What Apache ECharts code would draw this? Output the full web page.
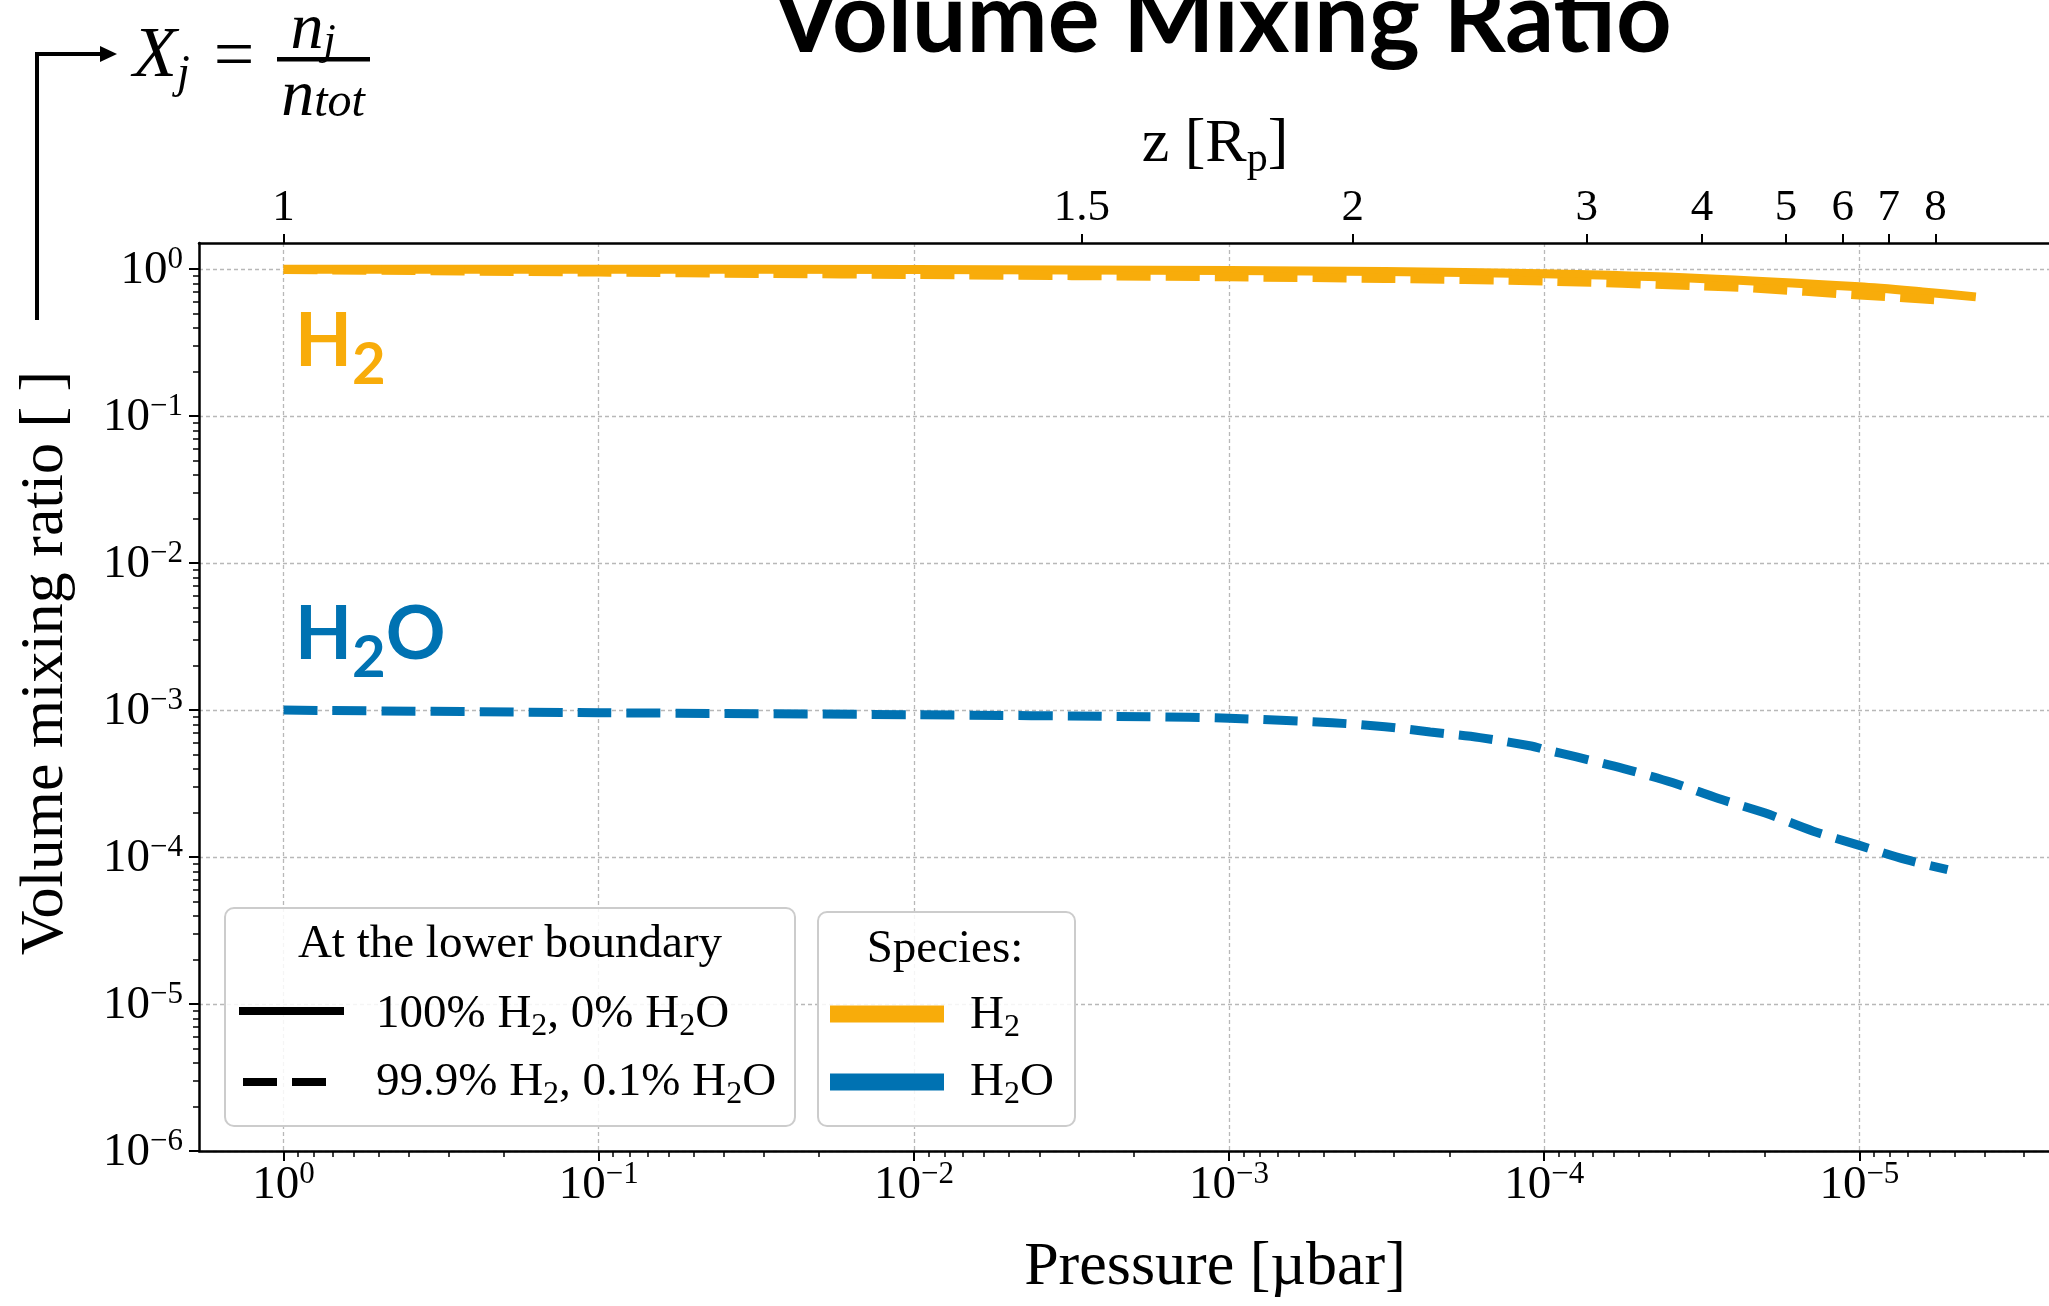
<!DOCTYPE html>
<html>
<head>
<meta charset="utf-8">
<script src="https://cdn.jsdelivr.net/npm/echarts@6/dist/echarts.min.js"></script>
<style>
html,body{margin:0;padding:0;background:#fff;}
#c{width:2049px;height:1306px;}
</style>
</head>
<body>
<div id="c"></div>
<script>
// ---------------- DATA ----------------
// 100% H2, 0% H2O : H2 volume mixing ratio (solid orange)
const h2SolidPressure = [1, 0.1, 0.01, 1e-3, 3.2e-4, 1e-4, 3.2e-5, 1e-5, 6.3e-6, 4.27e-6];
const h2SolidVmr      = [1.0, 1.0, 0.995, 0.98, 0.963, 0.93, 0.865, 0.758, 0.70, 0.648];

// 99.9% H2, 0.1% H2O : H2 volume mixing ratio (dashed orange)
const h2DashPressure = [1, 0.1, 0.029, 0.01, 1e-3, 3.2e-4, 1e-4, 3.2e-5, 2.2e-5, 1e-5, 5.5e-6];
const h2DashVmr      = [0.995, 0.955, 0.935, 0.92, 0.887, 0.865, 0.83, 0.77, 0.745, 0.668, 0.616];

// 99.9% H2, 0.1% H2O : H2O volume mixing ratio (dashed blue)
const h2oDashPressure = [1, 0.1, 0.01, 1.8e-3, 1e-3, 4.7e-4, 3.2e-4, 2.3e-4, 1.6e-4, 1.1e-4, 1e-4,
                         7.9e-5, 5.6e-5, 3.9e-5, 2.8e-5, 2.0e-5, 1.4e-5, 1e-5, 7.1e-6, 5.25e-6];
const h2oDashVmr      = [1.0e-3, 9.6e-4, 9.3e-4, 9.0e-4, 8.8e-4, 8.2e-4, 7.7e-4, 7.1e-4, 6.5e-4, 5.7e-4, 5.4e-4,
                         4.8e-4, 4.0e-4, 3.2e-4, 2.5e-4, 2.0e-4, 1.5e-4, 1.2e-4, 9.6e-5, 8.2e-5];

// Axis ticks
const pressureTicks = [1, 1e-1, 1e-2, 1e-3, 1e-4, 1e-5, 1e-6];
const vmrTicks      = [1, 1e-1, 1e-2, 1e-3, 1e-4, 1e-5, 1e-6];
// Top axis: altitude z [Rp] tick labels and the pressures where they sit
const zTickLabels   = ['1', '1.5', '2', '3', '4', '5', '6', '7', '8'];
const zTickPressure = [1, 2.93e-3, 4.05e-4, 7.33e-5, 3.16e-5, 1.71e-5, 1.13e-5, 8.07e-6, 5.73e-6];

// Legend / text
const legendTitle1 = 'At the lower boundary';
const legendTitle2 = 'Species:';

// ---------------- STYLE ----------------
const SERIF = '"Liberation Serif", "DejaVu Serif", serif';
const SANS  = 'Lato, "Open Sans", sans-serif';
const ORANGE = '#f8ac0a';
const BLUE = '#0072b2';
const GRID = '#b8b8b8';

function minorTicks(lo, hi) {
  const out = [];
  for (let e = lo; e <= hi; e++) for (let m = 2; m <= 9; m++) out.push(m * Math.pow(10, e));
  return out;
}
function powLabel(v) {
  const e = Math.round(Math.log10(v));
  return '{b|10}{s|' + (e < 0 ? '\u2212' + (-e) : String(e)) + '}';
}
const tickRich = {
  b: {fontFamily: SERIF, fontSize: 47, lineHeight: 50, verticalAlign: 'bottom', color: '#000'},
  s: {fontFamily: SERIF, fontSize: 31, lineHeight: 31, verticalAlign: 'top', color: '#000'}
};
function zip(a, b) { return a.map((p, i) => [p, b[i]]); }

const X_MIN = 6.62e-7, X_MAX = 1.855, Y_MIN = 1e-6, Y_MAX = 1.507;

const chart = echarts.init(document.getElementById('c'), null, {renderer: 'canvas'});

const subRich = (fs, sfs, p, color) => ({
  n: {fontFamily: SERIF, fontSize: fs, lineHeight: fs, verticalAlign: 'top', fill: color || '#000', color: color || '#000'},
  u: {fontFamily: SERIF, fontSize: sfs, lineHeight: sfs, verticalAlign: 'top', padding: [p, 0, 0, 0], fill: color || '#000', color: color || '#000'}
});

const option = {
  animation: false,
  backgroundColor: '#fff',
  title: {
    text: 'Volume Mixing Ratio',
    left: 1222, top: -30, padding: 0, textAlign: 'center',
    textStyle: {fontFamily: SANS, fontWeight: 'bold', fontSize: 97, lineHeight: 102, color: '#000'}
  },
  grid: {left: 199, top: 243, right: -182, bottom: 155, containLabel: false, outerBoundsMode: 'none'},
  xAxis: [
    {
      type: 'log', logBase: 10, min: X_MIN, max: X_MAX, inverse: true, position: 'bottom',
      name: 'Pressure [\u00b5bar]', nameLocation: 'middle', nameGap: 86,
      nameTextStyle: {fontFamily: SERIF, fontSize: 62, color: '#000'},
      axisLine: {show: true, onZero: false, lineStyle: {color: '#000', width: 2.5}},
      axisTick: {show: true, inside: false, length: 10, customValues: pressureTicks, lineStyle: {color: '#000', width: 2}},
      axisLabel: {show: true, customValues: pressureTicks, margin: 8, formatter: powLabel, rich: tickRich},
      splitLine: {show: true, lineStyle: {color: GRID, width: 1.3, type: [4, 3]}},
      minorTick: {show: false}
    },
    {
      type: 'log', logBase: 10, min: X_MIN, max: X_MAX, inverse: true, position: 'top',
      name: 'z [R{p|p}]', nameLocation: 'middle', nameGap: 62,
      nameTextStyle: {fontFamily: SERIF, fontSize: 62, color: '#000',
        rich: {p: {fontFamily: SERIF, fontSize: 42, padding: [30, 0, 0, 0], color: '#000'}}},
      axisLine: {show: true, onZero: false, lineStyle: {color: '#000', width: 2.5}},
      axisTick: {show: true, inside: false, length: 9, customValues: zTickPressure, lineStyle: {color: '#000', width: 2}},
      axisLabel: {show: true, customValues: zTickPressure, margin: 12, fontFamily: SERIF, fontSize: 45, color: '#000',
        formatter: function (v) {
          let best = 0, bd = Infinity;
          zTickPressure.forEach((p, i) => { const d = Math.abs(Math.log10(p) - Math.log10(v)); if (d < bd) { bd = d; best = i; } });
          return zTickLabels[best];
        }},
      splitLine: {show: false}
    },
    {
      type: 'log', logBase: 10, min: X_MIN, max: X_MAX, inverse: true, position: 'bottom',
      axisLine: {show: false, onZero: false},
      axisTick: {show: true, inside: false, length: 6, customValues: minorTicks(-7, 0), lineStyle: {color: '#000', width: 1.5}},
      axisLabel: {show: false},
      splitLine: {show: false}
    }
  ],
  yAxis: [
    {
      type: 'log', logBase: 10, min: Y_MIN, max: Y_MAX, position: 'left',
      name: 'Volume mixing ratio [ ]', nameLocation: 'middle', nameGap: 122, nameRotate: 90,
      nameTextStyle: {fontFamily: SERIF, fontSize: 62, color: '#000', padding: [0, 0, 0, 68]},
      axisLine: {show: true, onZero: false, lineStyle: {color: '#000', width: 2.5}},
      axisTick: {show: true, inside: false, length: 10, customValues: vmrTicks, lineStyle: {color: '#000', width: 2}},
      axisLabel: {show: true, customValues: vmrTicks, margin: 16, formatter: powLabel, rich: tickRich},
      splitLine: {show: true, lineStyle: {color: GRID, width: 1.3, type: [4, 3]}}
    },
    {
      type: 'log', logBase: 10, min: Y_MIN, max: Y_MAX, position: 'left',
      axisLine: {show: false, onZero: false},
      axisTick: {show: true, inside: false, length: 6, customValues: minorTicks(-6, 0), lineStyle: {color: '#000', width: 1.5}},
      axisLabel: {show: false},
      splitLine: {show: false}
    }
  ],
  series: [
    {
      name: 'H2 (100% H2, 0% H2O)', type: 'line', xAxisIndex: 0, yAxisIndex: 0,
      data: zip(h2SolidPressure, h2SolidVmr), showSymbol: false, symbol: 'none', smooth: 0.3,
      lineStyle: {color: ORANGE, width: 9, type: 'solid', cap: 'butt'}, z: 3
    },
    {
      name: 'H2 (99.9% H2, 0.1% H2O)', type: 'line', xAxisIndex: 0, yAxisIndex: 0,
      data: zip(h2DashPressure, h2DashVmr), showSymbol: false, symbol: 'none', smooth: 0.3,
      lineStyle: {color: ORANGE, width: 9, type: [34, 15], cap: 'butt'}, z: 4
    },
    {
      name: 'H2O (99.9% H2, 0.1% H2O)', type: 'line', xAxisIndex: 0, yAxisIndex: 0,
      data: zip(h2oDashPressure, h2oDashVmr), showSymbol: false, symbol: 'none', smooth: 0.3,
      lineStyle: {color: BLUE, width: 9, type: [34, 15], cap: 'butt'}, z: 5
    }
  ],
  graphic: [
    // arrow from y-axis label to formula
    {type: 'polyline', z: 100, shape: {points: [[37, 320], [37, 54], [104, 54]]}, style: {stroke: '#000', lineWidth: 4, fill: null}},
    {type: 'polygon', z: 100, shape: {points: [[100, 46], [117, 54], [100, 62]]}, style: {fill: '#000'}},
    // X_j = n_j / n_tot
    {type: 'text', z: 100, style: {x: 133, y: 57, text: '{n|X}{u|j}', align: 'left', verticalAlign: 'middle',
      rich: {
        n: {fontFamily: SERIF, fontStyle: 'italic', fontSize: 72, lineHeight: 72, verticalAlign: 'top', fill: '#000'},
        u: {fontFamily: SERIF, fontStyle: 'italic', fontSize: 46, lineHeight: 46, verticalAlign: 'top', padding: [31, 0, 0, 0], fill: '#000'}
      }}},
    {type: 'text', z: 100, style: {x: 234, y: 59, text: '=', align: 'center', verticalAlign: 'middle', fontFamily: SERIF, fontSize: 72, fill: '#000'}},
    {type: 'text', z: 100, style: {x: 313, y: 31, text: '{n|n}{u|j}', align: 'center', verticalAlign: 'middle',
      rich: {
        n: {fontFamily: SERIF, fontStyle: 'italic', fontSize: 66, lineHeight: 66, verticalAlign: 'top', fill: '#000'},
        u: {fontFamily: SERIF, fontStyle: 'italic', fontSize: 44, lineHeight: 44, verticalAlign: 'top', padding: [22, 0, 0, 0], fill: '#000'}
      }}},
    {type: 'rect', z: 100, shape: {x: 277, y: 57, width: 93, height: 4.5}, style: {fill: '#000'}},
    {type: 'text', z: 100, style: {x: 323, y: 98, text: '{n|n}{u|tot}', align: 'center', verticalAlign: 'middle',
      rich: {
        n: {fontFamily: SERIF, fontStyle: 'italic', fontSize: 66, lineHeight: 66, verticalAlign: 'top', fill: '#000'},
        u: {fontFamily: SERIF, fontStyle: 'italic', fontSize: 48, lineHeight: 48, verticalAlign: 'top', padding: [14, 0, 0, 0], fill: '#000'}
      }}},
    // species annotations
    {type: 'text', z: 100, style: {x: 295, y: 342, text: '{n|H}{u|2}', align: 'left', verticalAlign: 'middle',
      rich: {
        n: {fontFamily: SANS, fontWeight: 'bold', fontSize: 74, lineHeight: 74, verticalAlign: 'top', fill: ORANGE},
        u: {fontFamily: SANS, fontWeight: 'bold', fontSize: 58, lineHeight: 58, verticalAlign: 'top', padding: [31, 0, 0, 0], fill: ORANGE}
      }}},
    {type: 'text', z: 100, style: {x: 295, y: 635, text: '{n|H}{u|2}{n|O}', align: 'left', verticalAlign: 'middle',
      rich: {
        n: {fontFamily: SANS, fontWeight: 'bold', fontSize: 74, lineHeight: 74, verticalAlign: 'top', fill: BLUE},
        u: {fontFamily: SANS, fontWeight: 'bold', fontSize: 58, lineHeight: 58, verticalAlign: 'top', padding: [31, 0, 0, 0], fill: BLUE}
      }}},
    // legend 1
    {type: 'rect', z: 110, shape: {x: 225, y: 908, width: 570, height: 218, r: 9},
      style: {fill: 'rgba(255,255,255,0.85)', stroke: '#cccccc', lineWidth: 2}},
    {type: 'text', z: 111, style: {x: 510, y: 945, text: legendTitle1, align: 'center', verticalAlign: 'middle', fontFamily: SERIF, fontSize: 47, fill: '#000'}},
    {type: 'line', z: 111, shape: {x1: 239, y1: 1011, x2: 344, y2: 1011}, style: {stroke: '#000', lineWidth: 8}},
    {type: 'line', z: 111, shape: {x1: 243, y1: 1082, x2: 326, y2: 1082}, style: {stroke: '#000', lineWidth: 8, lineDash: [34, 15]}},
    {type: 'text', z: 111, style: {x: 376, y: 1015, text: '{n|100% H}{u|2}{n|, 0% H}{u|2}{n|O}', align: 'left', verticalAlign: 'middle', rich: subRich(47, 32, 19)}},
    {type: 'text', z: 111, style: {x: 376, y: 1083, text: '{n|99.9% H}{u|2}{n|, 0.1% H}{u|2}{n|O}', align: 'left', verticalAlign: 'middle', rich: subRich(47, 32, 19)}},
    // legend 2
    {type: 'rect', z: 110, shape: {x: 818, y: 912, width: 257, height: 214, r: 9},
      style: {fill: 'rgba(255,255,255,0.85)', stroke: '#cccccc', lineWidth: 2}},
    {type: 'text', z: 111, style: {x: 945, y: 950, text: legendTitle2, align: 'center', verticalAlign: 'middle', fontFamily: SERIF, fontSize: 47, fill: '#000'}},
    {type: 'line', z: 111, shape: {x1: 830, y1: 1014, x2: 944, y2: 1014}, style: {stroke: ORANGE, lineWidth: 17}},
    {type: 'line', z: 111, shape: {x1: 830, y1: 1082, x2: 944, y2: 1082}, style: {stroke: BLUE, lineWidth: 17}},
    {type: 'text', z: 111, style: {x: 970, y: 1016, text: '{n|H}{u|2}', align: 'left', verticalAlign: 'middle', rich: subRich(47, 32, 19)}},
    {type: 'text', z: 111, style: {x: 970, y: 1083, text: '{n|H}{u|2}{n|O}', align: 'left', verticalAlign: 'middle', rich: subRich(47, 32, 19)}}
  ]
};
chart.setOption(option);
</script>
</body>
</html>
